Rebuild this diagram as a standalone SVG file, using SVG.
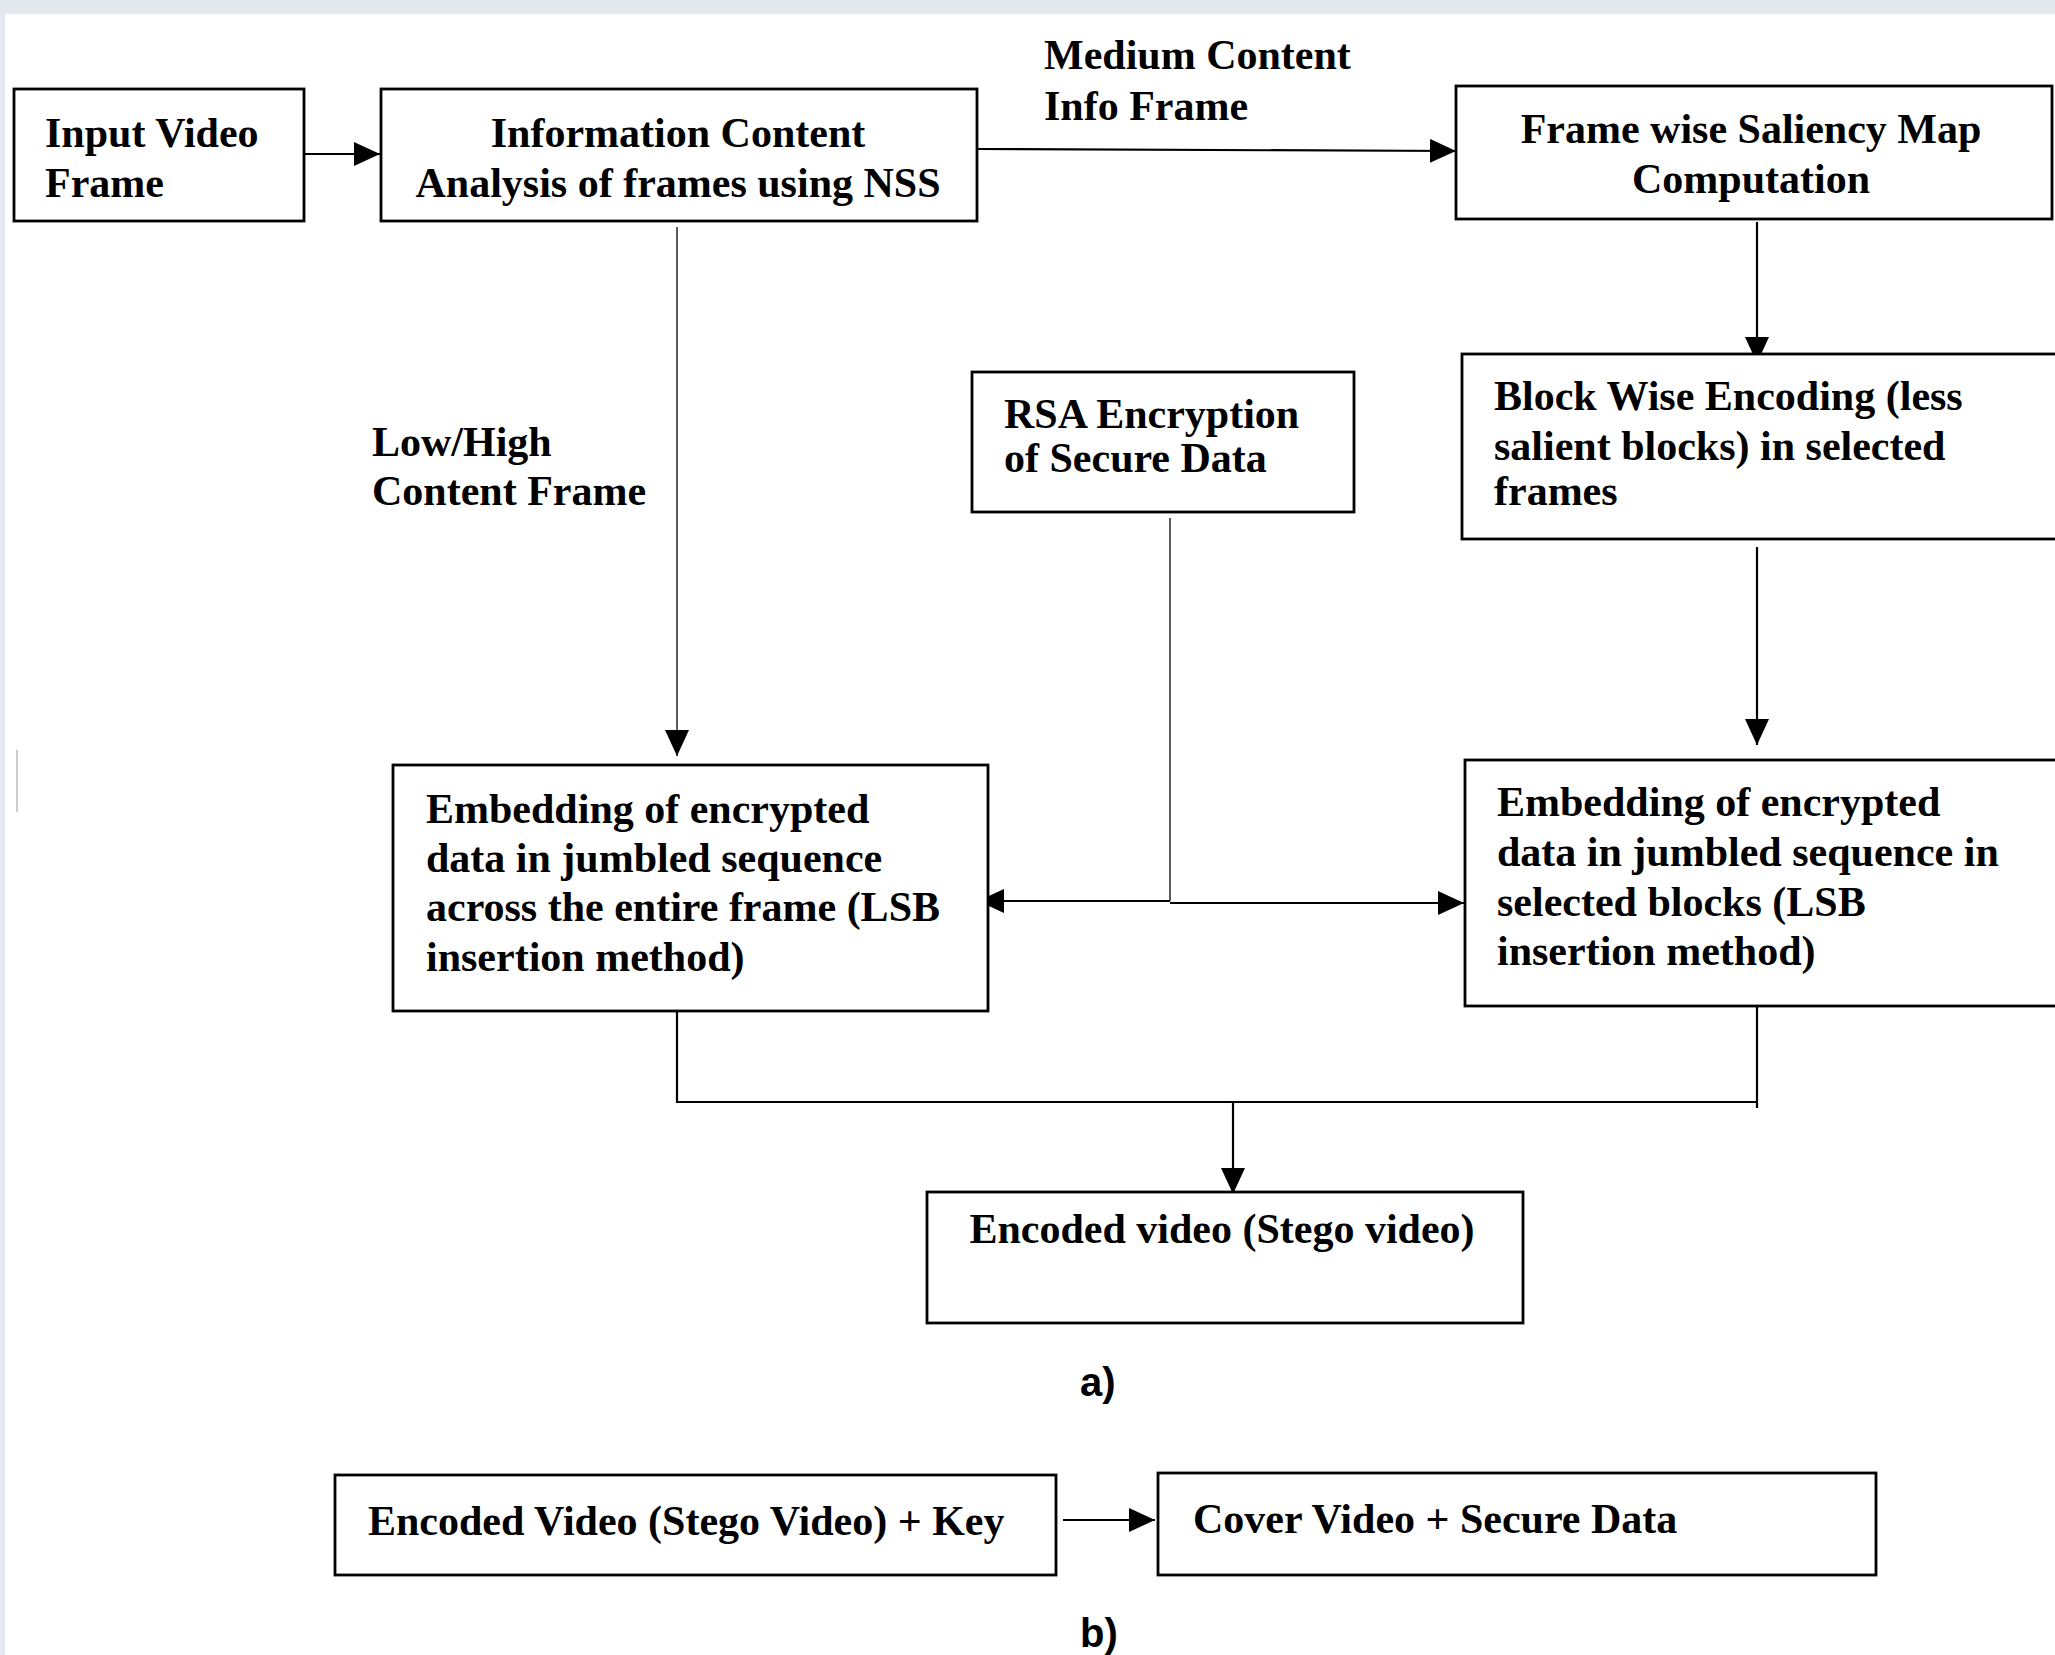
<svg xmlns="http://www.w3.org/2000/svg" width="2055" height="1655" viewBox="0 0 2055 1655">
<defs>
<style>
.box{fill:#ffffff;stroke:#000;stroke-width:2.8}
.t{font-family:"Liberation Serif","Times New Roman",serif;font-weight:bold;font-size:42px;fill:#000}
.c{stroke:#000;stroke-width:2.2;fill:none}
.thin{stroke:#333;stroke-width:1.6;fill:none}
.lab{font-family:"Liberation Sans",Arial,sans-serif;font-weight:bold;font-size:40px;fill:#000}
</style>
<marker id="ah" markerUnits="userSpaceOnUse" markerWidth="26" markerHeight="24" refX="26" refY="12" orient="auto">
<path d="M0,0 L26,12 L0,24 Z" fill="#000"/>
</marker>
</defs>
<rect x="0" y="0" width="2055" height="1655" fill="#ffffff"/>
<rect x="0" y="0" width="2055" height="14" fill="#e4e8ef"/>
<rect x="0" y="0" width="5" height="1655" fill="#e4e8ef"/>
<line x1="17" y1="750" x2="17" y2="812" stroke="#bbbbbb" stroke-width="1.5"/>

<g id="connectors">
<path class="c" d="M304,154 H380" marker-end="url(#ah)"/>
<path class="c" d="M978,149 L1456,151" marker-end="url(#ah)"/>
<path class="thin" d="M677,227 V756" marker-end="url(#ah)"/>
<path class="c" d="M1757,222 V363" marker-end="url(#ah)"/>
<path class="c" d="M1757,547 V745" marker-end="url(#ah)"/>
<path class="thin" d="M1170,518 V901"/>
<path class="c" d="M1170,901 H978" marker-end="url(#ah)"/>
<path class="c" d="M1170,903 H1464" marker-end="url(#ah)"/>
<path class="c" d="M677,1012 V1102 H1757"/>
<path class="c" d="M1757,1006 V1108"/>
<path class="c" d="M1233,1102 V1194" marker-end="url(#ah)"/>
<path class="c" d="M1063,1520 H1155" marker-end="url(#ah)"/>
</g>

<g id="input-video-frame">
<rect class="box" x="14" y="89" width="290" height="132"/>
<text class="t" x="45" y="147">Input Video</text>
<text class="t" x="45" y="197">Frame</text>
</g>

<g id="info-content-analysis">
<rect class="box" x="381" y="89" width="596" height="132"/>
<text class="t" x="678" y="147" text-anchor="middle">Information Content</text>
<text class="t" x="678" y="197" text-anchor="middle">Analysis of frames using NSS</text>
</g>

<g id="label-medium">
<text class="t" x="1044" y="69">Medium Content</text>
<text class="t" x="1044" y="120">Info Frame</text>
</g>

<g id="saliency-map">
<rect class="box" x="1456" y="86" width="596" height="133"/>
<text class="t" x="1751" y="143" text-anchor="middle">Frame wise Saliency Map</text>
<text class="t" x="1751" y="193" text-anchor="middle">Computation</text>
</g>

<g id="label-lowhigh">
<text class="t" x="372" y="456">Low/High</text>
<text class="t" x="372" y="505">Content Frame</text>
</g>

<g id="rsa-encryption">
<rect class="box" x="972" y="372" width="382" height="140"/>
<text class="t" x="1004" y="428">RSA Encryption</text>
<text class="t" x="1004" y="472">of Secure Data</text>
</g>

<g id="block-wise-encoding">
<rect class="box" x="1462" y="354" width="610" height="185"/>
<text class="t" x="1494" y="410">Block Wise Encoding (less</text>
<text class="t" x="1494" y="460">salient blocks) in selected</text>
<text class="t" x="1494" y="505">frames</text>
</g>

<g id="embed-entire-frame">
<rect class="box" x="393" y="765" width="595" height="246"/>
<text class="t" x="426" y="823">Embedding of encrypted</text>
<text class="t" x="426" y="872">data in jumbled sequence</text>
<text class="t" x="426" y="921">across the entire frame (LSB</text>
<text class="t" x="426" y="971">insertion method)</text>
</g>

<g id="embed-selected-blocks">
<rect class="box" x="1465" y="760" width="610" height="246"/>
<text class="t" x="1497" y="816">Embedding of encrypted</text>
<text class="t" x="1497" y="866">data in jumbled sequence in</text>
<text class="t" x="1497" y="916">selected blocks (LSB</text>
<text class="t" x="1497" y="965">insertion method)</text>
</g>

<g id="encoded-video">
<rect class="box" x="927" y="1192" width="596" height="131"/>
<text class="t" x="1222" y="1243" text-anchor="middle">Encoded video (Stego video)</text>
</g>

<text class="lab" x="1080" y="1396">a)</text>

<g id="stego-plus-key">
<rect class="box" x="335" y="1475" width="721" height="100"/>
<text class="t" x="368" y="1535">Encoded Video (Stego Video) + Key</text>
</g>

<g id="cover-secure">
<rect class="box" x="1158" y="1473" width="718" height="102"/>
<text class="t" x="1193" y="1533">Cover Video + Secure Data</text>
</g>

<text class="lab" x="1080" y="1647">b)</text>
</svg>
